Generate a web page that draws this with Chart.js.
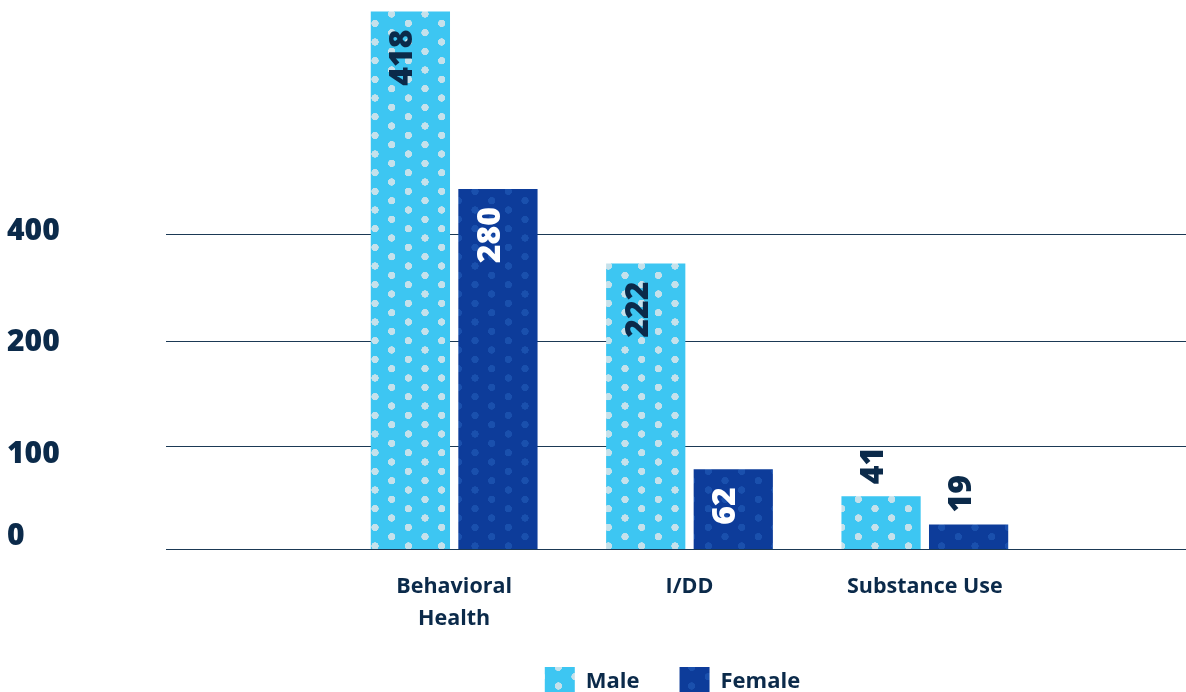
<!DOCTYPE html>
<html>
<head>
<meta charset="utf-8">
<title>Clients by Gender</title>
<script src="https://cdn.jsdelivr.net/npm/chart.js@4.4.1/dist/chart.umd.min.js"></script>
<style>
  html, body { margin: 0; padding: 0; background: #fff; }
  #wrap { width: 1186px; height: 692px; }
</style>
</head>
<body>
<div id="wrap"><canvas id="genderChart"></canvas></div>
<script>
// Categories and counts per gender
const categories = [['Behavioral', 'Health'], 'I/DD', 'Substance Use'];
const maleCounts = [418, 222, 41];
const femaleCounts = [280, 62, 19];
// Gridline values and the labels printed beside them
const gridValues = [0, 80, 162, 245];
const tickLabels = ['0', '100', '200', '400'];

const NAVY = '#0b2a4a';
const FONT = "'Open Sans', 'Noto Sans', sans-serif";
// small vertical shifts for the axis labels
const labelNudge = [-13, 8, 2, -3];

// Polka dot fill: tile drawn at 3x, then scaled down
function dotPattern(bg, dot) {
    const c = document.createElement('canvas');
    c.width = 100;
    c.height = 56;
    const g = c.getContext('2d');
    g.fillStyle = bg;
    g.fillRect(0, 0, 100, 56);
    g.fillStyle = dot;
    [[25, 14], [75, 42]].forEach(([x, y]) => {
        g.beginPath();
        g.arc(x, y, 11, 0, Math.PI * 2);
        g.fill();
    });
    const pat = document.createElement('canvas').getContext('2d').createPattern(c, 'repeat');
    pat.setTransform(new DOMMatrix().scale(1 / 3));
    return pat;
}

const malePattern = dotPattern('#3dc6f2', '#c5e1eb');
const femalePattern = dotPattern('#0d3c9a', '#1a50ad');

// Gridlines run across the whole width, labels sit on the far left
const sideGrid = {
    id: 'sideGrid',
    beforeDatasetsDraw(chart) {
        const y = chart.scales.y;
        const ctx = chart.ctx;
        ctx.save();
        ctx.strokeStyle = '#1b3955';
        ctx.lineWidth = 1;
        y.ticks.forEach(t => {
            const py = Math.round(y.getPixelForValue(t.value)) + 0.5;
            ctx.beginPath();
            ctx.moveTo(166, py);
            ctx.lineTo(chart.width, py);
            ctx.stroke();
        });
        ctx.restore();
    },
    afterDraw(chart) {
        const y = chart.scales.y;
        const ctx = chart.ctx;
        ctx.save();
        ctx.font = `800 30px ${FONT}`;
        ctx.fillStyle = NAVY;
        ctx.textAlign = 'left';
        ctx.textBaseline = 'middle';
        y.ticks.forEach((t, i) => {
            ctx.fillText(tickLabels[i], 7, y.getPixelForValue(t.value) + labelNudge[i]);
        });
        ctx.restore();
    }
};

// Rotated value labels: inside the bar top when they fit, above it otherwise
const barLabels = {
    id: 'barLabels',
    afterDatasetsDraw(chart) {
        const ctx = chart.ctx;
        ctx.save();
        ctx.font = `800 32px ${FONT}`;
        ctx.textBaseline = 'alphabetic';
        chart.data.datasets.forEach((ds, di) => {
            chart.getDatasetMeta(di).data.forEach((bar, i) => {
                const text = String(ds.data[i]);
                const w = ctx.measureText(text).width;
                const inside = (bar.base - bar.y) >= w + 36;
                ctx.save();
                ctx.translate(bar.x + 2, inside ? bar.y + 18 : bar.y - 12);
                ctx.rotate(-Math.PI / 2);
                ctx.textAlign = inside ? 'right' : 'left';
                ctx.fillStyle = inside ? ds.labelColor : NAVY;
                ctx.fillText(text, 0, 0);
                ctx.restore();
            });
        });
        ctx.restore();
    }
};

new Chart(document.getElementById('genderChart'), {
    type: 'bar',
    data: {
        labels: categories,
        datasets: [
            { label: 'Male', data: maleCounts, backgroundColor: malePattern, borderWidth: 0, labelColor: NAVY },
            { label: 'Female', data: femaleCounts, backgroundColor: femalePattern, borderWidth: 0, labelColor: '#ffffff' }
        ]
    },
    options: {
        responsive: true,
        maintainAspectRatio: false,
        animation: false,
        datasets: {
            bar: { categoryPercentage: 0.744, barPercentage: 0.905 }
        },
        layout: { padding: { left: 302.5, right: 143.5, top: 0, bottom: -15 } },
        scales: {
            x: {
                grid: { display: false, drawTicks: false },
                border: { display: false },
                ticks: {
                    color: NAVY,
                    font: { family: FONT, size: 21.5, weight: '700', lineHeight: 1.48 },
                    padding: 22,
                    maxRotation: 0,
                    autoSkip: false
                },
                afterFit: s => { s.height = 78; }
            },
            y: {
                min: 0,
                max: 427,
                grid: { display: false, drawTicks: false },
                border: { display: false },
                ticks: { display: false },
                afterBuildTicks: s => { s.ticks = gridValues.map(v => ({ value: v })); },
                afterFit: s => { s.width = 34; }
            }
        },
        plugins: {
            legend: {
                position: 'bottom',
                labels: {
                    boxWidth: 30,
                    boxHeight: 30,
                    padding: 40,
                    color: NAVY,
                    font: { family: FONT, size: 22, weight: '700' }
                }
            },
            tooltip: { enabled: false }
        }
    },
    plugins: [sideGrid, barLabels]
});
</script>
</body>
</html>
